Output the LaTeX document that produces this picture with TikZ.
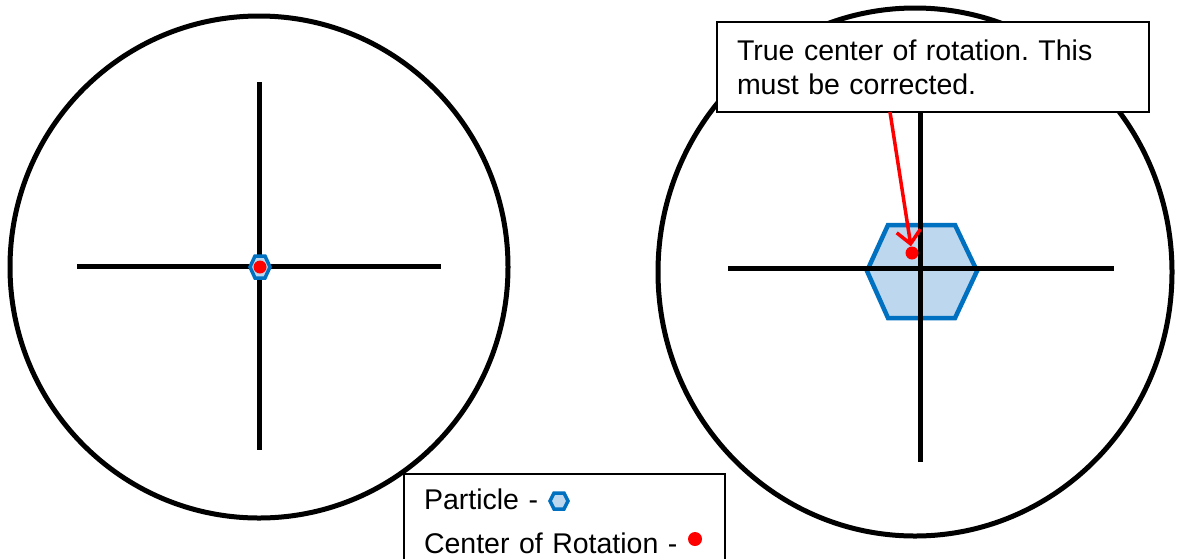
\documentclass[tikz,border=0pt]{standalone}
\usepackage{fontspec}
\setmainfont{Liberation Sans}
\usetikzlibrary{arrows.meta,calc}
\definecolor{hexblue}{RGB}{0,112,192}
\definecolor{hexfill}{RGB}{189,215,238}
\definecolor{dotred}{RGB}{255,0,0}
\frenchspacing
\begin{document}
\begin{tikzpicture}[x=1pt,y=-1pt,
  ring/.style={draw=black,line width=5pt},
  axisline/.style={draw=black,line width=5pt},
  particle/.style={draw=hexblue,fill=hexfill,line join=miter},
  cor/.style={circle,fill=dotred,inner sep=0pt,minimum size=#1},
  cor/.default=13pt,
  labelbox/.style={draw=black,fill=white,line width=1.5pt,align=left,
    anchor=north west,inner xsep=20pt,outer sep=0pt},
  pointer/.style={draw=dotred,line width=3.5pt,
    -{Straight Barb[length=13pt,width=24pt,line width=3.5pt]}},
]
\useasboundingbox (0,0) rectangle (1186,558);
\fill[white] (0,0) rectangle (1186,558);

% ---- left view ----
\draw[ring] (259,267) ellipse [x radius=249, y radius=251];
\draw[axisline] (77,266) -- (441,266);
\draw[axisline] (259,82) -- (259,450);
\coordinate (lc) at (260,267);
\draw[particle,line width=3.5pt] ($(lc)+(-10,0)$) -- ($(lc)+(-5,-11)$) -- ($(lc)+(5,-11)$)
  -- ($(lc)+(10,0)$) -- ($(lc)+(5,11)$) -- ($(lc)+(-5,11)$) -- cycle;
\node[cor=13pt] (leftcor) at (lc) {};

% ---- right view ----
\draw[ring] (915,272) ellipse [x radius=257, y radius=264];
\coordinate (rc) at (922,271);
\draw[particle,line width=4.5pt] ($(rc)+(-55,0)$) -- ($(rc)+(-34,-46)$) -- ($(rc)+(33,-46)$)
  -- ($(rc)+(55,0)$) -- ($(rc)+(33,47)$) -- ($(rc)+(-34,47)$) -- cycle;
\draw[axisline] (728,268) -- (1114,268);
\draw[axisline] (920,112) -- (920,462);
\node[cor=13pt] (truecor) at (912,253) {};

% ---- callout ----
\node[labelbox,minimum width=432pt,minimum height=90pt,text width=392pt,
  font=\fontsize{28.5}{34}\selectfont] (note) at (717,22)
  {True center of rotation. This\\must be corrected.};
\coordinate (arrowstart) at (890,112);
\draw[pointer] (arrowstart) -- (truecor);

% ---- legend ----
\node[labelbox,minimum width=321pt,text width=281pt,inner ysep=15pt,
  font=\fontsize{28.5}{44}\selectfont] (legend) at (404,474)
  {Particle -\\Center of Rotation -};
\coordinate (lh) at (559,501);
\draw[particle,line width=3.5pt] ($(lh)+(-9,0)$) -- ($(lh)+(-5,-8)$) -- ($(lh)+(5,-8)$)
  -- ($(lh)+(9,0)$) -- ($(lh)+(5,8)$) -- ($(lh)+(-5,8)$) -- cycle;
\node[cor=14pt] (legendcor) at (695,539) {};
\end{tikzpicture}
\end{document}
